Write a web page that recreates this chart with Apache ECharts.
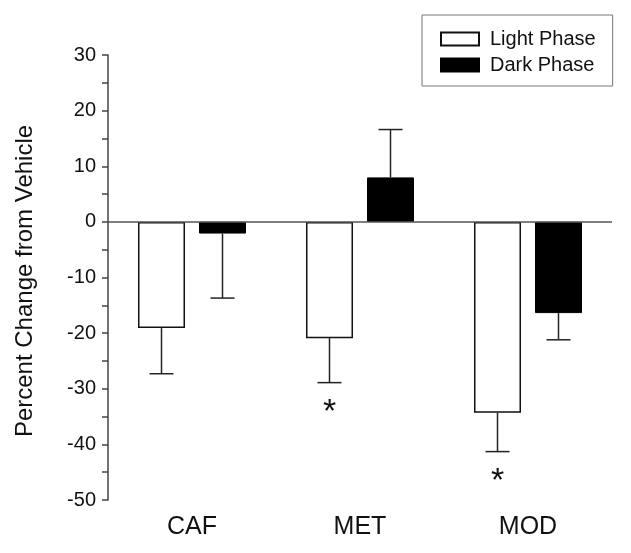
<!DOCTYPE html>
<html>
<head>
<meta charset="utf-8">
<script src="https://cdn.jsdelivr.net/npm/echarts@6/dist/echarts.min.js"></script>
<style>
html,body{margin:0;padding:0;background:#fff;}
#main{width:631px;height:553px;}
</style>
</head>
<body>
<div id="main"></div>
<script>
// ---- data ----
var categories = ['CAF', 'MET', 'MOD'];
var lightMeans = [-19.1, -20.9, -34.3];
var lightErr   = [8.2, 8.0, 7.0];
var darkMeans  = [-2.1, 8.0, -16.4];
var darkErr    = [11.6, 8.6, 4.8];
var lightSig   = [false, true, true];
var darkSig    = [false, false, false];
var seriesNames = ['Light Phase', 'Dark Phase'];
var yTitle = 'Percent Change from Vehicle';
var yMin = -50, yMax = 30, yStep = 10;

// ---- layout ----
var BAR_W = 47, BAR_GAP = 14;
var OFFSET = (BAR_W + BAR_GAP) / 2;
var FONT = 'Liberation Sans, Arial, sans-serif';

function errData(means, errs, sig) {
  return means.map(function (m, i) { return [i, m, errs[i], sig[i] ? 1 : 0]; });
}

function errRender(offset) {
  return function (params, api) {
    var idx = api.value(0), m = api.value(1), e = api.value(2), s = api.value(3);
    var end = m < 0 ? m - e : m + e;
    var p0 = api.coord([idx, m]);
    var p1 = api.coord([idx, end]);
    var x = p0[0] + offset;
    var cap = 12;
    var children = [
      { type: 'line', shape: { x1: x, y1: p0[1], x2: x, y2: p1[1] }, style: { stroke: '#222', lineWidth: 1.5 } },
      { type: 'line', shape: { x1: x - cap, y1: p1[1], x2: x + cap, y2: p1[1] }, style: { stroke: '#222', lineWidth: 1.5 } }
    ];
    if (s) {
      children.push({ type: 'text', style: { text: '*', x: x, y: p1[1] + 13, fontSize: 34, fontFamily: FONT, fill: '#111', align: 'center', verticalAlign: 'top' } });
    }
    return { type: 'group', children: children };
  };
}

var chart = echarts.init(document.getElementById('main'));
chart.setOption({
  animation: false,
  backgroundColor: '#fff',
  grid: { left: 108, right: 19, top: 55, bottom: 53, containLabel: false },
  legend: {
    orient: 'vertical',
    left: 422, top: 15,
    padding: [14, 17, 11, 18],
    itemGap: 6,
    itemWidth: 38, itemHeight: 13,
    borderColor: '#777', borderWidth: 1,
    icon: 'rect',
    textStyle: { fontSize: 20, fontFamily: FONT, color: '#111', padding: [0, 0, 0, 6] },
    data: seriesNames
  },
  xAxis: {
    type: 'category',
    data: categories,
    position: 'bottom',
    axisLine: { show: false },
    axisTick: { show: false },
    axisLabel: { fontSize: 25, fontFamily: FONT, color: '#111', margin: 15 },
    splitLine: { show: false }
  },
  yAxis: {
    type: 'value',
    min: yMin, max: yMax, interval: yStep,
    axisLine: { show: true, lineStyle: { color: '#444', width: 1.5 } },
    axisTick: { show: true, length: 6, lineStyle: { color: '#444', width: 1.5 } },
    minorTick: { show: true, splitNumber: 2, length: 6, lineStyle: { color: '#444', width: 1.5 } },
    axisLabel: { fontSize: 20, fontFamily: FONT, color: '#111', margin: 12 },
    splitLine: { show: false }
  },
  graphic: [{
    type: 'text',
    x: 25, y: 281,
    rotation: Math.PI / 2,
    style: { text: yTitle, fontSize: 24, fontFamily: FONT, fill: '#111', align: 'center', verticalAlign: 'middle' }
  }],
  series: [
    {
      name: seriesNames[0], type: 'bar', data: lightMeans,
      barWidth: BAR_W, barGap: (BAR_GAP / BAR_W * 100) + '%',
      itemStyle: { color: '#fff', borderColor: '#111', borderWidth: 1.5 },
      markLine: {
        silent: true, symbol: 'none', label: { show: false },
        lineStyle: { type: 'solid', color: '#555', width: 1.5 },
        data: [{ yAxis: 0 }]
      },
      z: 2
    },
    {
      name: seriesNames[1], type: 'bar', data: darkMeans,
      barWidth: BAR_W,
      itemStyle: { color: '#000', borderColor: '#000', borderWidth: 1 },
      z: 2
    },
    {
      type: 'custom', name: 'lightErr', data: errData(lightMeans, lightErr, lightSig),
      encode: { x: 0, y: 1 }, renderItem: errRender(-OFFSET), z: 3, silent: true
    },
    {
      type: 'custom', name: 'darkErr', data: errData(darkMeans, darkErr, darkSig),
      encode: { x: 0, y: 1 }, renderItem: errRender(OFFSET), z: 3, silent: true
    }
  ]
});
</script>
</body>
</html>
